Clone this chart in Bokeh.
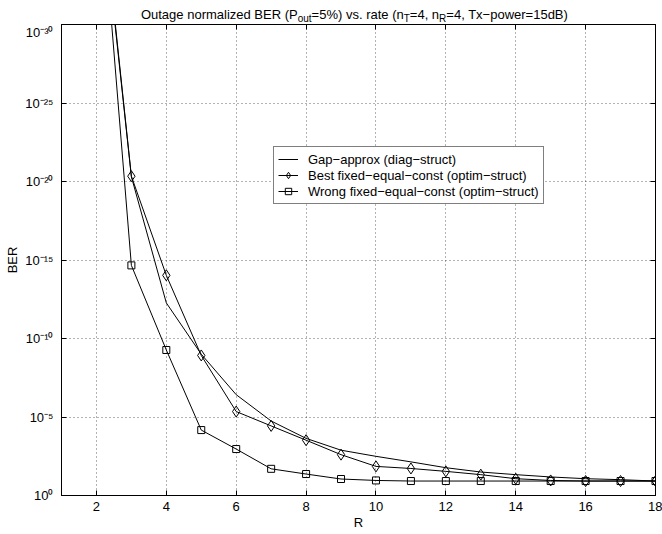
from bokeh.plotting import figure
from bokeh.layouts import column
from bokeh.models import (Range1d, FixedTicker, LinearAxis, LogAxis, CustomJSTickFormatter,
                          Legend, LegendItem, ColumnDataSource)
from bokeh.core.properties import value
from bokeh.embed import file_html
from bokeh.resources import INLINE

# ---------------- data ----------------
R = [2, 3, 4, 5, 6, 7, 8, 9, 10, 11, 12, 13, 14, 15, 16, 17, 18]
gap_ber = [1e-41, 5.0e-21, 5.4e-13, 1.0e-9, 3.8e-7, 1.8e-5, 2.3e-4, 1.3e-3, 3.2e-3,
           7.2e-3, 1.7e-2, 3.2e-2, 4.7e-2, 6.6e-2, 8.5e-2, 9.8e-2, 1.2e-1]
best_ber = [4e-42, 4.6e-21, 9.5e-15, 1.2e-9, 4.5e-6, 3.7e-5, 3.0e-4, 2.5e-3, 1.4e-2,
            1.9e-2, 2.9e-2, 4.7e-2, 8.5e-2, 1.1e-1, 1.2e-1, 1.2e-1, 1.2e-1]
wrong_ber = [1.3e-42, 2.2e-15, 5.4e-10, 6.8e-5, 1.1e-3, 2.0e-2, 4.3e-2, 8.9e-2, 1.1e-1,
             1.2e-1, 1.2e-1, 1.2e-1, 1.2e-1, 1.2e-1, 1.2e-1, 1.2e-1, 1.2e-1]
x_ticks = [2, 4, 6, 8, 10, 12, 14, 16, 18]
y_ticks = [1e-30, 1e-25, 1e-20, 1e-15, 1e-10, 1e-5, 1.0]
labels = ["Gap\u2212approx (diag\u2212struct)",
          "Best fixed\u2212equal\u2212const (optim\u2212struct)",
          "Wrong fixed\u2212equal\u2212const (optim\u2212struct)"]
title_pieces = [("Outage normalized BER (P", False), ("out", True),
                ("=5%) vs. rate (n", False), ("T", True), ("=4, n", False), ("R", True),
                ("=4, Tx\u2212power=15dB)", False)]

FONT = "Liberation Sans"
FS = 13
SUB = 10
W = 662
TITLE_H = 24
BL, BR = 61, 7   # left / right borders of the plotting frame

# ---------------- title strip (text with subscripts) ----------------
AW = {'O': 778, 'u': 556, 't': 278, 'a': 556, 'g': 556, 'e': 556, ' ': 278, 'n': 556, 'o': 556,
      'r': 333, 'm': 833, 'l': 222, 'i': 222, 'z': 500, 'd': 556, 'B': 667, 'E': 667, 'R': 722,
      '(': 333, ')': 333, 'P': 667, '=': 584, '5': 556, '%': 889, 'v': 500, 's': 500, '.': 278,
      'T': 611, '4': 556, ',': 278, 'x': 500, '\u2212': 584, 'p': 556, 'w': 722, '1': 556,
      'b': 556, 'D': 722}


def tw(s, size):
    return sum(AW.get(c, 556) for c in s) * size / 1000.0


tx, ty, tt, tsz = [], [], [], []
total = sum(tw(s, SUB if sub else FS) for s, sub in title_pieces)
cur = 354 - total / 2
for s, sub in title_pieces:
    size = SUB if sub else FS
    tx.append(cur)
    ty.append(TITLE_H - (18 if sub else 14))
    tt.append(s)
    tsz.append(f"{size}px")
    cur += tw(s, size)

# the strip's frame spans the same pixels as the main frame, data x == page pixel
tp = figure(width=W, height=TITLE_H, x_range=Range1d(BL, W - BR), y_range=Range1d(0, TITLE_H),
            x_axis_type=None, y_axis_type=None, output_backend="svg", toolbar_location=None,
            min_border=0, min_border_left=BL, min_border_right=BR)
tp.outline_line_color = None
tp.xgrid.visible = False
tp.ygrid.visible = False
tp.text(x="x", y="y", text="t", text_font_size="s",
        source=ColumnDataSource(dict(x=tx, y=ty, t=tt, s=tsz)),
        text_font=value(FONT), text_color="black", text_align="left",
        text_baseline="alphabetic")

# ---------------- main plot ----------------
p = figure(width=W, height=534 - TITLE_H, x_range=Range1d(1, 18), y_range=Range1d(1.0, 1e-30),
           y_axis_type="log", output_backend="svg", toolbar_location=None,
           min_border_left=BL, min_border_right=BR, min_border_top=0, min_border_bottom=39)
p.outline_line_color = "black"
p.outline_line_width = 1
p.background_fill_color = "white"
p.border_fill_color = "white"

xt = FixedTicker(ticks=x_ticks, minor_ticks=[])
yt = FixedTicker(ticks=y_ticks, minor_ticks=[])
sup_fmt = CustomJSTickFormatter(code="""
const e = Math.round(Math.log10(tick));
const sup = {"-":"\u207b","0":"\u2070","1":"\u00b9","2":"\u00b2","3":"\u00b3","4":"\u2074","5":"\u2075","6":"\u2076","7":"\u2077","8":"\u2078","9":"\u2079"};
return "10" + String(e).split("").map(c => sup[c]).join("");
""")
blank_fmt = CustomJSTickFormatter(code="return '';")

for ax in p.xaxis:
    ax.ticker = xt
for ax in p.yaxis:
    ax.ticker = yt
    ax.formatter = sup_fmt

for ax in list(p.xaxis) + list(p.yaxis):
    ax.major_tick_in = 5
    ax.major_tick_out = 0
    ax.minor_tick_in = 0
    ax.minor_tick_out = 0
    ax.axis_line_color = "black"
    ax.major_tick_line_color = "black"
    ax.major_label_text_font = FONT
    ax.major_label_text_font_size = f"{FS}px"
    ax.major_label_text_color = "black"
    ax.axis_label_text_font = FONT
    ax.axis_label_text_font_size = f"{FS}px"
    ax.axis_label_text_font_style = "normal"
    ax.axis_label_text_color = "black"

p.xaxis.axis_label = "R"
p.xaxis.major_label_standoff = 6
p.xaxis.axis_label_standoff = 1
p.yaxis.axis_label = "BER"
p.yaxis.major_label_standoff = 8
p.yaxis.axis_label_standoff = 2

# box ticks on top and right
top = LinearAxis(ticker=xt, formatter=blank_fmt, major_tick_in=5, major_tick_out=0,
                 minor_tick_in=0, minor_tick_out=0, major_label_standoff=0,
                 major_label_text_font_size="1px", axis_line_color="black")
right = LogAxis(ticker=yt, formatter=blank_fmt, major_tick_in=5, major_tick_out=0,
                minor_tick_in=0, minor_tick_out=0, major_label_standoff=0,
                major_label_text_font_size="1px", axis_line_color="black")
p.add_layout(top, "above")
p.add_layout(right, "right")

for g in (p.xgrid, p.ygrid):
    g.grid_line_color = "black"
    g.grid_line_alpha = 0.6
    g.grid_line_dash = "1 3"
    g.grid_line_width = 1
p.xgrid.ticker = xt
p.ygrid.ticker = yt

r_gap = p.line(R, gap_ber, line_color="black", line_width=1)
r_best_l = p.line(R, best_ber, line_color="black", line_width=1)
r_best_m = p.scatter(R, best_ber, marker="diamond", size=11, line_color="black",
                     fill_color=None, line_width=1)
r_wrong_l = p.line(R, wrong_ber, line_color="black", line_width=1)
r_wrong_m = p.scatter(R, wrong_ber, marker="square", size=7, line_color="black",
                      fill_color=None, line_width=1)

legend = Legend(items=[LegendItem(label=labels[0], renderers=[r_gap]),
                       LegendItem(label=labels[1], renderers=[r_best_l, r_best_m]),
                       LegendItem(label=labels[2], renderers=[r_wrong_l, r_wrong_m])],
                location=(212, 291), border_line_color="black", border_line_width=1,
                background_fill_color="white", background_fill_alpha=1.0,
                padding=4, spacing=0, margin=0, glyph_width=20, glyph_height=16,
                label_height=16, label_standoff=10, label_text_font=FONT,
                label_text_font_size=f"{FS}px", label_text_color="black")
p.add_layout(legend)

layout = column(tp, p, spacing=0)
open("out.html", "w").write(file_html(layout, INLINE))
